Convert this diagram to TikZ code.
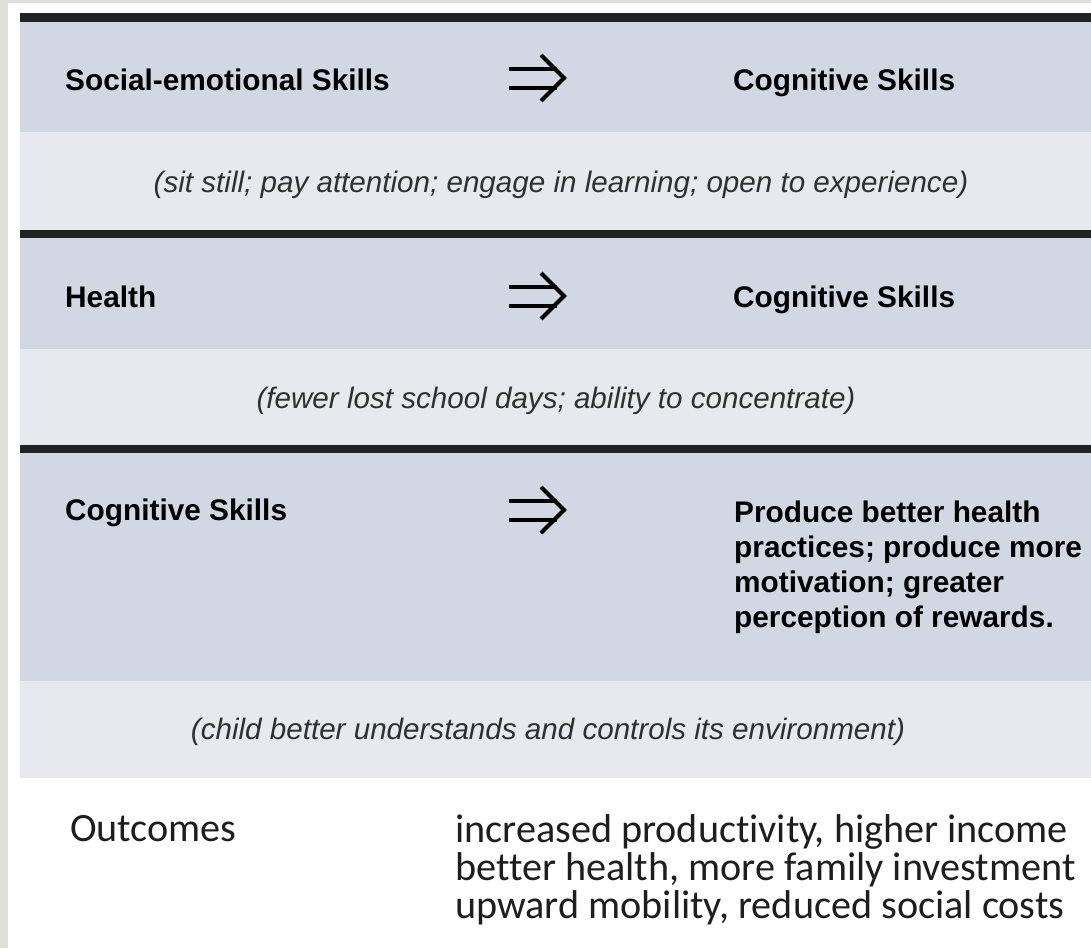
\documentclass[tikz,border=0pt]{standalone}
\usepackage{fontspec}
\setmainfont{Liberation Sans}
\newfontfamily\outfont[Ligatures=NoCommon]{Carlito}
% stack of lines whose baseline is that of the first line
\newcommand{\linestack}[1]{\vtop{\halign{##\hfil\cr#1\crcr}}}
\begin{document}
\begin{tikzpicture}[x=1pt,y=-1pt,
  head/.style={inner sep=0pt,anchor=base west,font=\fontsize{29.8}{35}\selectfont\bfseries},
  note/.style={inner sep=0pt,anchor=base,font=\fontsize{29.6}{34}\selectfont\itshape,text=notecol},
  implies/.style={line width=4pt,draw=black,line cap=butt},
  outc/.style={inner sep=0pt,anchor=base west,font=\fontsize{40.2}{38}\outfont,text=outcol}
]
\definecolor{pagegray}{HTML}{DEDFD9}
\definecolor{bandblue}{HTML}{D1D8E4}
\definecolor{bandgray}{HTML}{E8E9EE}
\definecolor{rulecol}{HTML}{222222}
\definecolor{notecol}{HTML}{303030}
\definecolor{outcol}{HTML}{1E1E1E}
\useasboundingbox (0,0) rectangle (1091,948);
% page frame
\fill[pagegray] (0,0) rectangle (1091,948);
\fill[white] (8,3) rectangle (1091,948);
% bands
\fill[rulecol] (20,13) rectangle (1091,22);
\fill[bandblue] (20,22) rectangle (1091,132);
\fill[bandgray] (20,132) rectangle (1091,230);
\fill[rulecol] (20,230) rectangle (1091,238);
\fill[bandblue] (20,238) rectangle (1091,349);
\fill[bandgray] (20,349) rectangle (1091,445);
\fill[rulecol] (20,445) rectangle (1091,453);
\fill[bandblue] (20,453) rectangle (1091,681);
\fill[bandgray] (20,681) rectangle (1091,778);

% implication arrows
\foreach \n/\yy in {a1/78, a2/296, a3/510}{
  \coordinate (\n) at (537,\yy);
  \draw[implies] ([shift={(-28,-9.5)}]\n) -- ([shift={(20,-9.5)}]\n);
  \draw[implies] ([shift={(-28,9.5)}]\n) -- ([shift={(20,9.5)}]\n);
  \draw[implies,line join=miter] ([shift={(4,-23)}]\n) -- ([shift={(27,0)}]\n) -- ([shift={(4,23)}]\n);
}

% row 1
\node[head] (s1) at (65,90) {Social-emotional Skills};
\node[head] (c1) at (733,90) {Cognitive Skills};
\node[note] (n1) at (561,192) {(sit still; pay attention; engage in learning; open to experience)};
% row 2
\node[head] (s2) at (65,307) {Health};
\node[head] (c2) at (733,307) {Cognitive Skills};
\node[note] (n2) at (556,408) {(fewer lost school days; ability to concentrate)};
% row 3
\node[head] (s3) at (65,520) {Cognitive Skills};
\node[head] (c3) at (734,522)
  {\linestack{Produce better health\cr practices; produce more\cr motivation; greater\cr perception of rewards.}};
\node[note] (n3) at (548,739) {(child better understands and controls its environment)};

% outcomes
\node[outc] (o) at (70,841) {Outcomes};
\node[outc] (ol) at (455,842)
  {\linestack{increased productivity, higher income\cr better health, more family investment\cr upward mobility, reduced social costs}};
\end{tikzpicture}
\end{document}
